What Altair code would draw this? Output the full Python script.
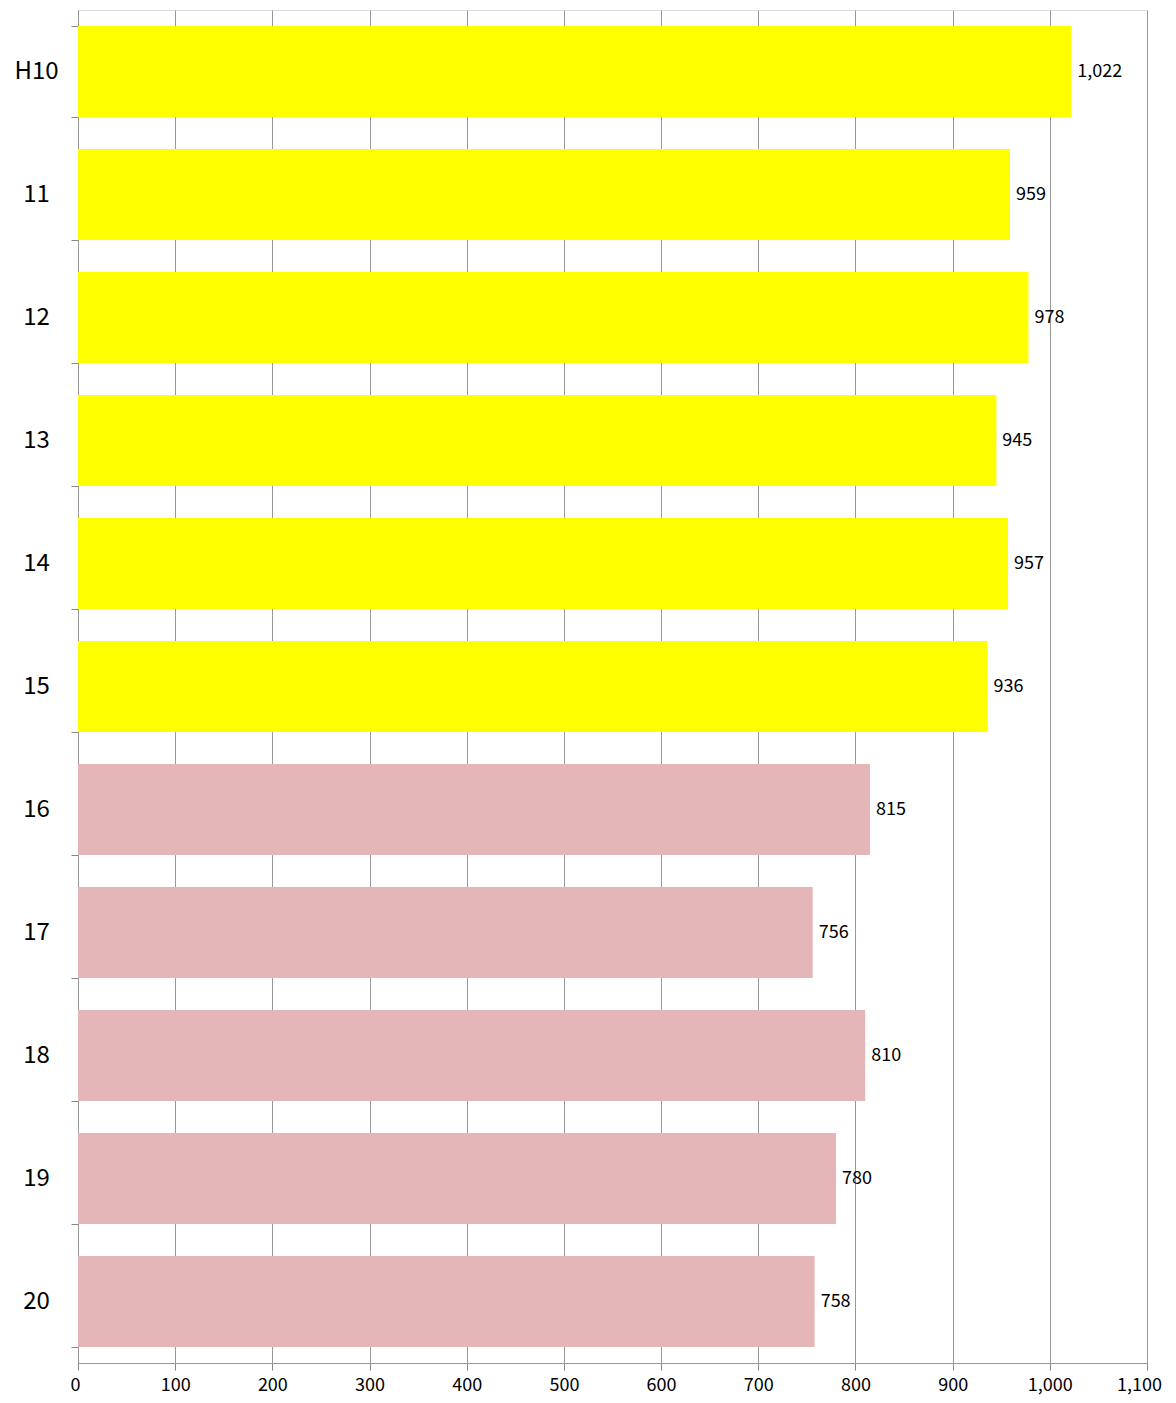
import altair as alt
import pandas as pd

categories = ["H10", "11", "12", "13", "14", "15", "16", "17", "18", "19", "20"]
values = [1022, 959, 978, 945, 957, 936, 815, 756, 810, 780, 758]
groups = ["a", "a", "a", "a", "a", "a", "b", "b", "b", "b", "b"]
x_ticks = [0, 100, 200, 300, 400, 500, 600, 700, 800, 900, 1000, 1100]

df = pd.DataFrame({"cat": categories, "val": values, "grp": groups})

y_enc = alt.Y(
    "cat:N",
    sort=categories,
    title=None,
    scale=alt.Scale(paddingInner=0.26, paddingOuter=0.13),
    axis=alt.Axis(
        labelFontSize=24,
        labelFont="Noto Sans CJK JP",
        labelColor="#000000",
        labelAlign="center",
        labelPadding=35,
        tickBand="extent",
        tickSize=7,
        tickColor="#888888",
        domainColor="#999999",
        grid=False,
    ),
)

x_enc = alt.X(
    "val:Q",
    title=None,
    scale=alt.Scale(domain=[0, 1100], nice=False),
    axis=alt.Axis(
        values=x_ticks,
        labelExpr="format(datum.value, ',')",
        labelFlush=False,
        labelOffset=alt.ExprRef(expr="datum.value == 1100 ? -8 : (datum.value == 0 ? -3 : 0)"),
        labelFontSize=18,
        labelFont="Noto Sans CJK JP",
        labelColor="#000000",
        labelPadding=6,
        tickSize=7,
        tickColor="#888888",
        domainColor="#999999",
        grid=True,
        gridColor="#999999",
        gridWidth=1,
    ),
)

bars = alt.Chart(df).mark_bar().encode(
    x=x_enc,
    y=y_enc,
    color=alt.Color(
        "grp:N",
        scale=alt.Scale(domain=["a", "b"], range=["#FFFF00", "#E4B6B7"]),
        legend=None,
    ),
)

labels = alt.Chart(df).mark_text(
    align="left", baseline="middle", dx=6, fontSize=18,
    font="Noto Sans CJK JP", color="#000000"
).encode(
    x=x_enc,
    y=y_enc,
    text=alt.Text("val:Q", format=","),
)

chart = (
    alt.layer(bars, labels)
    .properties(
        width=1069,
        height=1353,
        autosize=alt.AutoSizeParams(type="none"),
        padding={"left": 70, "top": 2, "right": 20, "bottom": 33},
    )
    .configure_view(stroke=None)
    .configure(background="#ffffff")
)

chart.save("out.html", embed_options={"renderer": "svg", "actions": False})
